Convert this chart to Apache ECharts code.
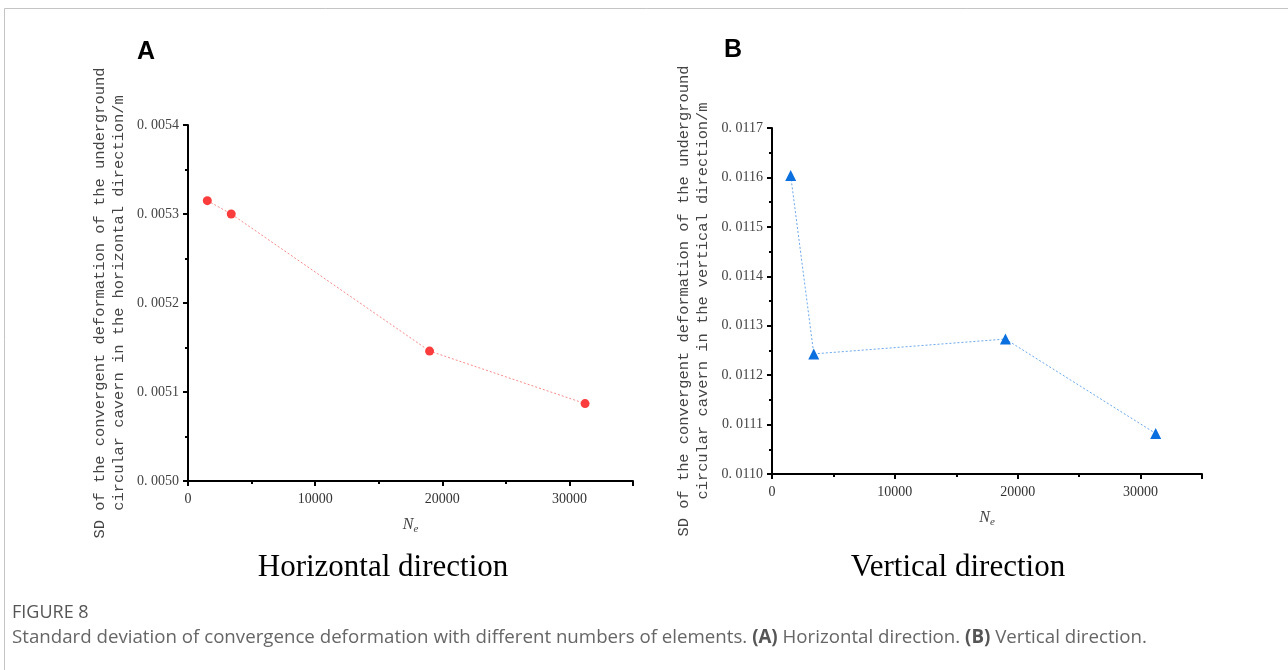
<!DOCTYPE html>
<html>
<head>
<meta charset="utf-8">
<script src="https://cdn.jsdelivr.net/npm/echarts@6/dist/echarts.min.js"></script>
<style>
  html, body { margin: 0; padding: 0; background: #fff; }
  #main { width: 1288px; height: 670px; }
</style>
</head>
<body>
<div id="main"></div>
<script>
// number of elements (same meshes for both panels)
const elementCounts = [1520, 3400, 19000, 31230];
// SD of convergent deformation, m
const sdHorizontal = [0.005315, 0.0053, 0.005146, 0.005087];
const sdVertical = [0.011604, 0.011243, 0.011273, 0.011082];

const xTicks = [0, 35000, 10000];          // min, max, interval
const yTicksA = [0.0050, 0.0054, 0.0001];
const yTicksB = [0.0110, 0.0117, 0.0001];

const monoFont = '"Liberation Mono", "DejaVu Sans Mono", monospace';
const serifFont = '"Liberation Serif", "DejaVu Serif", serif';

function pairs(xs, ys) {
  return xs.map((x, i) => [x, ys[i]]);
}

function xAxisFor(idx) {
  return {
    gridIndex: idx,
    type: 'value',
    min: xTicks[0], max: xTicks[1], interval: xTicks[2],
    name: '{n|N}{s|e}',
    nameLocation: 'middle',
    nameGap: 33,
    nameTextStyle: {
      rich: {
        n: { fontFamily: serifFont, fontStyle: 'italic', fontSize: 16, color: '#444' },
        s: { fontFamily: serifFont, fontStyle: 'italic', fontSize: 11, color: '#444', padding: [10, 0, 0, 0] }
      }
    },
    splitLine: { show: false },
    axisLine: { show: true, onZero: false, lineStyle: { color: '#000', width: 2 } },
    axisTick: { show: true, inside: false, length: 5, lineStyle: { color: '#000', width: 2 } },
    minorTick: { show: true, splitNumber: 2, length: 3, lineStyle: { color: '#000', width: 2 } },
    axisLabel: {
      fontFamily: serifFont, fontSize: 14, color: '#333', margin: 11,
      showMaxLabel: false,
      formatter: v => String(v)
    }
  };
}

function yAxisFor(idx, ticks, title) {
  return {
    gridIndex: idx,
    type: 'value',
    min: ticks[0], max: ticks[1], interval: ticks[2],
    name: title,
    nameLocation: 'middle',
    nameRotate: 90,
    nameGap: 60,
    nameTextStyle: { fontFamily: monoFont, fontSize: 15.4, color: '#444', lineHeight: 19 },
    splitLine: { show: false },
    axisLine: { show: true, onZero: false, lineStyle: { color: '#000', width: 2 } },
    axisTick: { show: true, inside: false, length: 5, lineStyle: { color: '#000', width: 2 } },
    minorTick: { show: true, splitNumber: 2, length: 3, lineStyle: { color: '#000', width: 2 } },
    axisLabel: {
      fontFamily: serifFont, fontSize: 14, color: '#444', margin: 9,
      formatter: v => v.toFixed(4).replace('.', '. ')
    }
  };
}

const chart = echarts.init(document.getElementById('main'));
chart.setOption({
  animation: false,
  backgroundColor: '#fff',
  grid: [
    { left: 188, top: 125, width: 445, height: 356 },
    { left: 772, top: 128, width: 430, height: 346 }
  ],
  xAxis: [xAxisFor(0), xAxisFor(1)],
  yAxis: [
    yAxisFor(0, yTicksA, 'SD of the convergent deformation of the underground\ncircular cavern in the horizontal direction/m'),
    yAxisFor(1, yTicksB, 'SD of the convergent deformation of the underground\ncircular cavern in the vertical direction/m')
  ],
  series: [
    {
      type: 'line', xAxisIndex: 0, yAxisIndex: 0,
      data: pairs(elementCounts, sdHorizontal),
      symbol: 'circle', symbolSize: 9,
      itemStyle: { color: '#fa3c3c' },
      lineStyle: { color: '#f98a8a', width: 1, type: [2, 2] }
    },
    {
      type: 'line', xAxisIndex: 1, yAxisIndex: 1,
      data: pairs(elementCounts, sdVertical),
      symbol: 'triangle', symbolSize: 11,
      itemStyle: { color: '#0a6fdf' },
      lineStyle: { color: '#6aa8ec', width: 1, type: [2, 2] }
    }
  ],
  graphic: [
    { type: 'rect', shape: { x: 4.5, y: 8.5, width: 1300, height: 700 },
      style: { fill: 'none', stroke: '#c4c4c4', lineWidth: 1 }, silent: true },
    { type: 'text', left: 137, top: 40,
      style: { text: 'A', font: 'bold 25px "Liberation Sans", Arial, sans-serif', fill: '#000' } },
    { type: 'text', left: 724, top: 38,
      style: { text: 'B', font: 'bold 25px "Liberation Sans", Arial, sans-serif', fill: '#000' } },
    { type: 'text', x: 383, y: 568,
      style: { text: 'Horizontal direction', font: '31px "Liberation Serif", serif', fill: '#000', align: 'center', verticalAlign: 'middle' } },
    { type: 'text', x: 958, y: 568,
      style: { text: 'Vertical direction', font: '31px "Liberation Serif", serif', fill: '#000', align: 'center', verticalAlign: 'middle' } },
    { type: 'text', x: 12, y: 613,
      style: { text: 'FIGURE 8', font: '18px "Open Sans", sans-serif', fill: '#555', verticalAlign: 'middle' } },
    { type: 'text', x: 12, y: 638,
      style: {
        verticalAlign: 'middle',
        text: '{t|Standard deviation of convergence deformation with different numbers of elements. }{b|(A)}{t| Horizontal direction. }{b|(B)}{t| Vertical direction.}',
        rich: {
          t: { font: '18.7px "Open Sans", sans-serif', fill: '#666' },
          b: { font: 'bold 18.7px "Open Sans", sans-serif', fill: '#555' }
        }
      } }
  ]
});
</script>
</body>
</html>
